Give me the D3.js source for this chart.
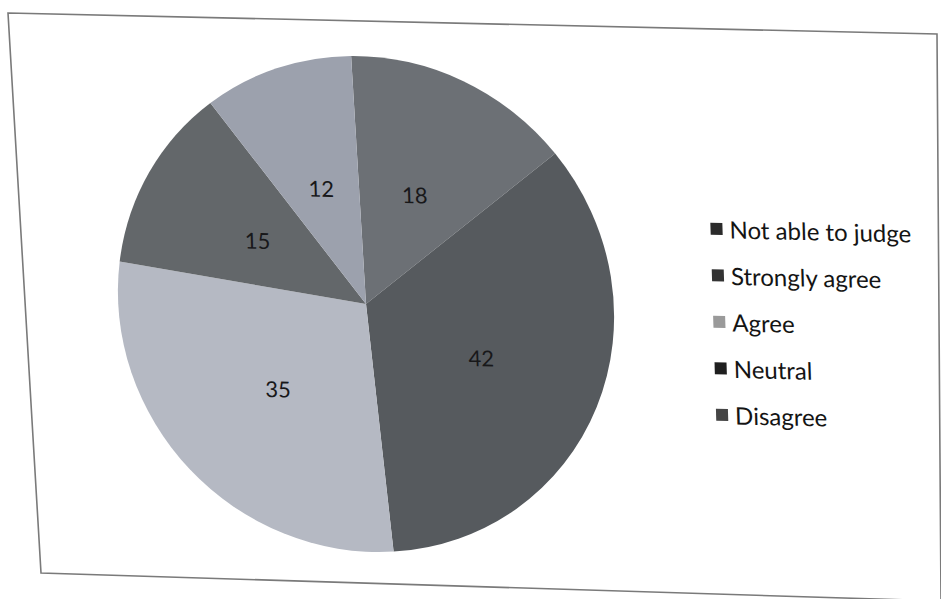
<!DOCTYPE html>
<html>
<head>
<meta charset="utf-8">
<script src="https://cdn.jsdelivr.net/npm/d3@7"></script>
<style>
  html, body { margin: 0; padding: 0; background: #ffffff; }
  svg { display: block; }
</style>
</head>
<body>
<svg id="chart" width="941" height="599"></svg>
<script>
// ---- data ----
const categories = ["Not able to judge", "Strongly agree", "Agree", "Neutral", "Disagree"];
const values = [18, 42, 35, 15, 12];
const sliceColors = ["#6c7075", "#565a5e", "#b5b9c3", "#63676a", "#9ca1ad"];
const legendColors = ["#2b2b2b", "#333333", "#9a9a9a", "#1f1f1f", "#454545"];

const svg = d3.select("#chart");

// photographed frame (slightly skewed)
svg.append("path")
  .attr("d", "M8,13 L937,34 L941,601 L41,573 Z")
  .attr("fill", "none")
  .attr("stroke", "#7a7a7a")
  .attr("stroke-width", 1.6);

const cx = 366, cy = 304, R = 248;
const g = svg.append("g")
  .attr("transform", `translate(${cx},${cy}) matrix(1,0.022,0.03,1,0,0)`);

const pie = d3.pie().sort(null).value(d => d)
  .startAngle(-0.03).endAngle(-0.03 + 2 * Math.PI);
const arcs = pie(values);
const arc = d3.arc().innerRadius(0).outerRadius(R);
const labelArc = d3.arc().innerRadius(R * 0.5).outerRadius(R * 0.5);

g.selectAll("path.slice").data(arcs).enter().append("path")
  .attr("class", "slice")
  .attr("d", arc)
  .attr("fill", (d, i) => sliceColors[i]);

g.selectAll("text.lbl").data(arcs).enter().append("text")
  .attr("class", "lbl")
  .attr("transform", d => { const c = labelArc.centroid(d); return `translate(${c[0]},${c[1] + 5})`; })
  .attr("text-anchor", "middle")
  .attr("dominant-baseline", "middle")
  .attr("font-family", "Lato, 'Open Sans', sans-serif")
  .attr("font-size", 22)
  .attr("fill", "#18181a")
  .text(d => d.data);

// legend
const legend = g.append("g").attr("transform", "translate(353,-83)");
const yL = d3.scalePoint().domain(categories).range([0, 186]);
const items = legend.selectAll("g.item").data(categories).enter().append("g")
  .attr("class", "item")
  .attr("transform", d => `translate(0,${yL(d)})`);
items.append("rect")
  .attr("x", -6).attr("y", -6).attr("width", 12).attr("height", 12)
  .attr("fill", (d, i) => legendColors[i]);
items.append("text")
  .attr("x", 13).attr("y", 0)
  .attr("dominant-baseline", "central")
  .attr("font-family", "Lato, 'Open Sans', sans-serif")
  .attr("font-size", 24)
  .attr("fill", "#141414")
  .text(d => d);
</script>
</body>
</html>
